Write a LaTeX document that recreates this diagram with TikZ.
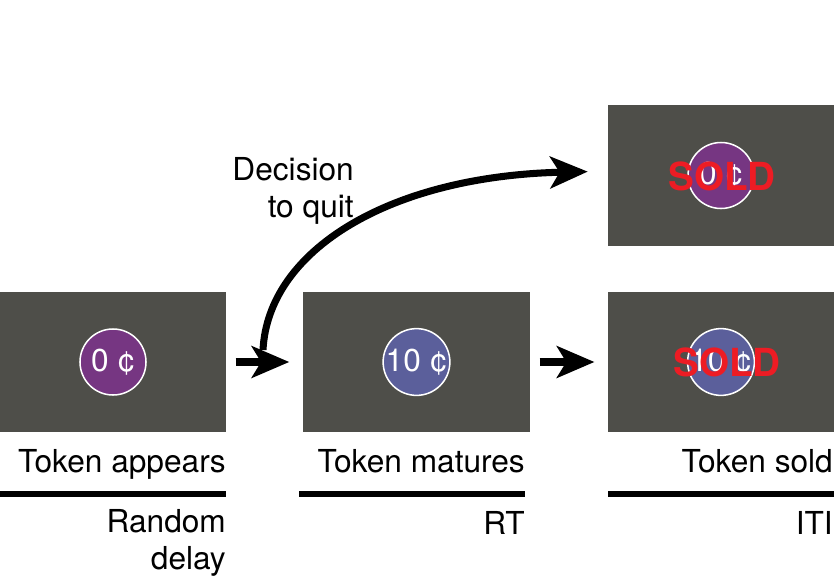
\documentclass[tikz,border=0pt]{standalone}
\usepackage{fontspec}
\setmainfont{TeX Gyre Heros}
\usetikzlibrary{arrows.meta}
\definecolor{screengray}{RGB}{78,78,73}
\definecolor{tokenpurple}{RGB}{118,54,130}
\definecolor{tokenblue}{RGB}{91,95,155}
\definecolor{soldred}{RGB}{237,28,36}
\tikzset{
	display/.style={fill=screengray, draw=none, minimum width=6.78cm, minimum height=4.2cm, inner sep=0pt},
	token/.style={circle, draw=white, line width=1.3pt, minimum size=1.98cm, inner sep=0pt, text=white,
			font=\fontsize{27}{30}\selectfont},
	soldtext/.style={text=soldred, inner sep=0pt, font=\fontsize{33}{36}\selectfont\bfseries},
	lbl/.style={inner sep=0pt, align=right, font=\fontsize{27}{31.5}\selectfont},
	bigarrow/.style={line width=6pt, -{Stealth[length=32pt, width=27pt, inset=8pt]}},
	bar/.style={line width=5pt}
}

\begin{document}
\begin{tikzpicture}[x=0.03cm, y=-0.03cm]
		\useasboundingbox (0,0) rectangle (834,585);
		% Screens
		\node[display] (appear) at (113,362) {};
		\node[display] (mature) at (416.5,362) {};
		\node[display] (sold) at (721,362) {};
		\node[display] (quit) at (721,175.5) {};
		% Tokens
		\node[token, fill=tokenpurple] (coinA) at (appear) {0 ¢};
		\node[token, fill=tokenblue] (coinB) at (mature) {10 ¢};
		\node[token, fill=tokenblue] (coinC) at (sold) {10 ¢};
		\node[token, fill=tokenpurple] (coinD) at (quit) {0 ¢};
		\node[soldtext] (soldC) at (727,362) {SOLD};
		\node[soldtext] (soldD) at (722,176) {SOLD};
		% Arrows
		\draw[bigarrow, shorten <=0.28cm, shorten >=0.42cm] (appear) -- (mature);
		\draw[bigarrow, shorten <=0.3cm, shorten >=0.4cm] (mature) -- (sold);
		\coordinate (qstart) at (263,350);
		\draw[bigarrow, shorten >=0.6cm] (qstart) .. controls (268,250) and (390,176) .. ([yshift=0.13cm]quit.west);
		\node[lbl, anchor=base east] (dec) at (354,217) {Decision\\to quit};
		% Labels and bars
		\node[lbl, anchor=base east] (tapp) at (226,472) {Token appears};
		\node[lbl, anchor=base east] (tmat) at (525,472) {Token matures};
		\node[lbl, anchor=base east] (tsold) at (833,472) {Token sold};
		\draw[bar] (0,494) -- (226,494);
		\draw[bar] (299,494) -- (525,494);
		\draw[bar] (608,494) -- (834,494);
		\node[lbl, anchor=base east] (delay) at (226,569) {Random\\delay};
		\node[lbl, anchor=base east] (rt) at (525,534) {RT};
		\node[lbl, anchor=base east] (iti) at (833,534) {ITI};
	\end{tikzpicture}
\end{document}
